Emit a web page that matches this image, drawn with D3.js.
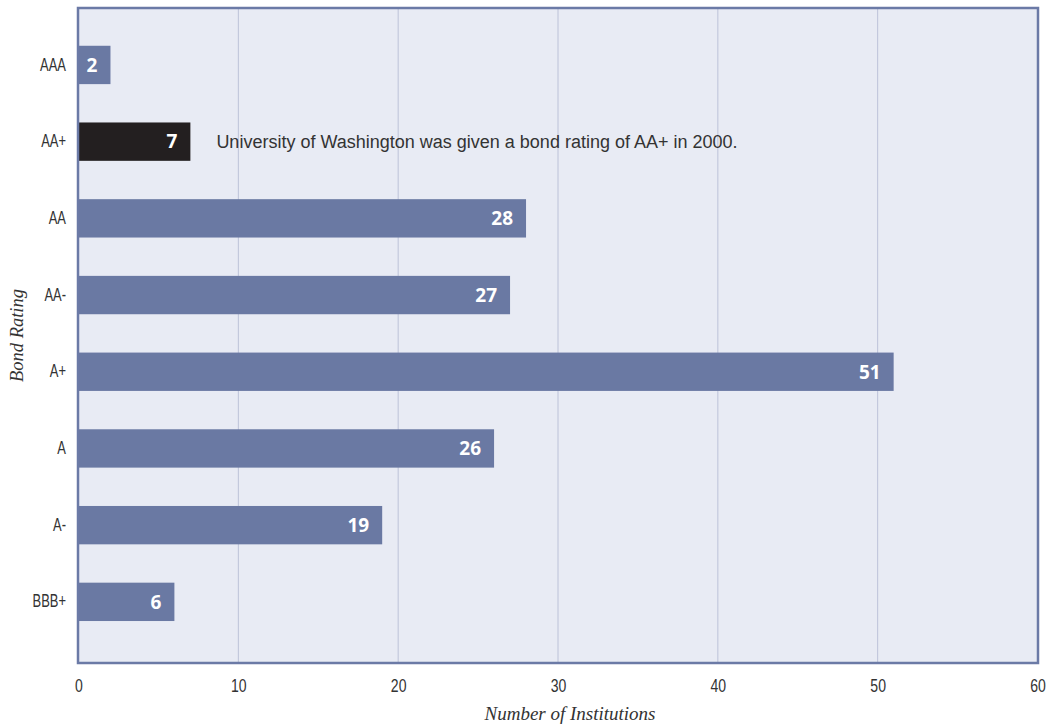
<!DOCTYPE html>
<html><head><meta charset="utf-8">
<script src="https://cdn.jsdelivr.net/npm/d3@7"></script>
<style>body{margin:0;background:#fff}svg{display:block}</style>
</head><body>
<svg id="c" width="1051" height="728"></svg>
<script>
const ratings = ["AAA","AA+","AA","AA-","A+","A","A-","BBB+"];
const counts = [2,7,28,27,51,26,19,6];
const highlight = "AA+";
const xTicks = [0,10,20,30,40,50,60];
const annotation = "University of Washington was given a bond rating of AA+ in 2000.";

const svg = d3.select("#c");
const L=78, R=1038, T=8, B=663;
const x = d3.scaleLinear().domain([0,60]).range([L+0.5,R-0.5]);
const y = d3.scaleBand().domain(ratings).range([26.6,640.2]).paddingInner(0.5).paddingOuter(0.25);

svg.append("rect").attr("x",L).attr("y",T).attr("width",R-L).attr("height",B-T).attr("fill","#e8ebf4");
svg.append("g").selectAll("line").data(xTicks.slice(1,-1)).join("line")
  .attr("x1",d=>x(d)).attr("x2",d=>x(d)).attr("y1",T).attr("y2",B)
  .attr("stroke","#bcc2d8").attr("stroke-width",1);

svg.append("g").selectAll("rect").data(ratings).join("rect")
  .attr("x",x(0)).attr("y",d=>y(d)).attr("height",y.bandwidth())
  .attr("width",(d,i)=>x(counts[i])-x(0))
  .attr("fill",d=>d===highlight?"#231f20":"#6a79a3");

svg.append("g").selectAll("text").data(ratings).join("text")
  .attr("x",(d,i)=>x(counts[i])-13).attr("y",d=>y(d)+y.bandwidth()/2)
  .attr("dy","0.36em").attr("text-anchor","end")
  .attr("font-family","'Open Sans',sans-serif").attr("font-weight","bold").attr("font-size",19)
  .attr("fill","#fff").text((d,i)=>counts[i]);

svg.append("text").attr("x",x(7)+26).attr("y",y(highlight)+y.bandwidth()/2).attr("dy","0.36em")
  .attr("font-family","'Liberation Sans',sans-serif").attr("font-size",18).attr("fill","#333")
  .text(annotation);

svg.append("rect").attr("x",L).attr("y",T).attr("width",R-L).attr("height",B-T)
  .attr("fill","none").attr("stroke","#6b7aa6").attr("stroke-width",2.5);

const tickFont = "'Liberation Sans',sans-serif";
const xa = svg.append("g").attr("transform",`translate(0,${B})`)
  .call(d3.axisBottom(x).tickValues(xTicks).tickSize(0).tickPadding(16));
xa.select(".domain").remove();
xa.selectAll("text").attr("font-family",tickFont).attr("font-size",18).attr("fill","#333")
  .attr("transform","scale(0.78,1)");

const ya = svg.append("g").attr("transform",`translate(${L},0)`)
  .call(d3.axisLeft(y).tickSize(0).tickPadding(12));
ya.select(".domain").remove();
ya.selectAll("text").attr("font-family",tickFont).attr("font-size",17.5).attr("fill","#333")
  .attr("x",0).attr("transform","translate(-12,0) scale(0.74,1)");

svg.append("text").attr("x",570).attr("y",720).attr("text-anchor","middle")
  .attr("font-family","'Liberation Serif',serif").attr("font-style","italic").attr("font-size",19)
  .attr("fill","#333").text("Number of Institutions");
svg.append("text").attr("transform",`translate(23,${(T+B)/2}) rotate(-90)`).attr("text-anchor","middle")
  .attr("font-family","'Liberation Serif',serif").attr("font-style","italic").attr("font-size",18.5)
  .attr("fill","#333").text("Bond Rating");
</script>
</body></html>
